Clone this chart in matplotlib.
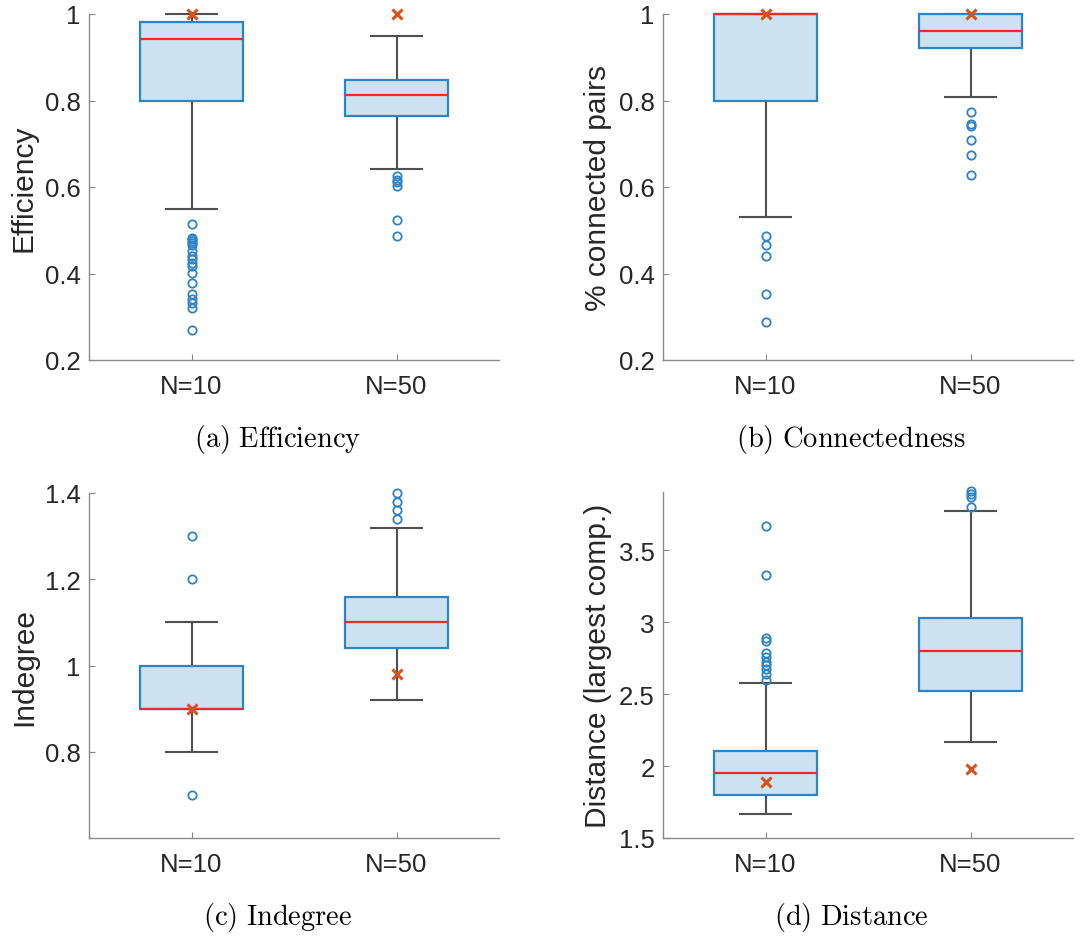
import matplotlib
matplotlib.use("Agg")
import matplotlib.pyplot as plt

plt.rcParams['font.family'] = ['Liberation Sans', 'DejaVu Sans']
plt.rcParams['mathtext.fontset'] = 'cm'

groups = ["N=10", "N=50"]

# Panel (a) Efficiency
eff_med = [0.943, 0.813]
eff_q1 = [0.800, 0.764]
eff_q3 = [0.982, 0.848]
eff_lo = [0.548, 0.642]
eff_hi = [1.000, 0.948]
eff_fl10 = [0.515, 0.483, 0.480, 0.475, 0.470, 0.465, 0.453, 0.441, 0.433,
            0.425, 0.418, 0.402, 0.379, 0.352, 0.340, 0.331, 0.321, 0.269]
eff_fl50 = [0.626, 0.616, 0.612, 0.603, 0.523, 0.487]
eff_ref = [1.0, 1.0]

# Panel (b) Connectedness
con_med = [1.000, 0.960]
con_q1 = [0.800, 0.921]
con_q3 = [1.000, 1.000]
con_lo = [0.531, 0.808]
con_hi = [1.000, 1.000]
con_fl10 = [0.486, 0.465, 0.441, 0.353, 0.287]
con_fl50 = [0.773, 0.746, 0.742, 0.709, 0.673, 0.627]
con_ref = [1.0, 1.0]

# Panel (c) Indegree
ind_med = [0.90, 1.10]
ind_q1 = [0.90, 1.04]
ind_q3 = [1.00, 1.16]
ind_lo = [0.80, 0.92]
ind_hi = [1.10, 1.32]
ind_fl10 = [1.30, 1.20, 0.70]
ind_fl50 = [1.40, 1.38, 1.36, 1.34]
ind_ref = [0.90, 0.98]

# Panel (d) Distance
dis_med = [1.952, 2.800]
dis_q1 = [1.799, 2.519]
dis_q3 = [2.108, 3.027]
dis_lo = [1.667, 2.166]
dis_hi = [2.577, 3.774]
dis_fl10 = [2.602, 2.641, 2.676, 2.700, 2.727, 2.757, 2.785, 2.867, 2.892, 3.331, 3.667]
dis_fl50 = [3.804, 3.873, 3.894, 3.915]
dis_ref = [1.887, 1.978]

captions = ["(a)\\ Efficiency", "(b)\\ Connectedness", "(c)\\ Indegree", "(d)\\ Distance"]
ylabels = ["Efficiency", "% connected pairs", "Indegree", "Distance (largest comp.)"]

BLUE = "#2d82c8"
FILL = "#cce2f0"
RED = "#f2262b"
WHISK = "#505050"
XCOL = "#d95319"
SPINE = "#8a8a8a"
TXT = "#262626"

W, H = 1083, 937
fig = plt.figure(figsize=(W / 100, H / 100), dpi=100)

def px_axes(left, top, right, bottom):
    return fig.add_axes([left / W, 1 - bottom / H, (right - left) / W, (bottom - top) / H])

panels = [
    dict(rect=(89, 15, 499, 361), med=eff_med, q1=eff_q1, q3=eff_q3, lo=eff_lo, hi=eff_hi,
         fl=[eff_fl10, eff_fl50], ref=eff_ref, ylim=(0.2, 1.0), ticks=[0.2, 0.4, 0.6, 0.8, 1.0],
         tl=["0.2", "0.4", "0.6", "0.8", "1"], cap=(278, 440)),
    dict(rect=(663, 15, 1073, 361), med=con_med, q1=con_q1, q3=con_q3, lo=con_lo, hi=con_hi,
         fl=[con_fl10, con_fl50], ref=con_ref, ylim=(0.2, 1.0), ticks=[0.2, 0.4, 0.6, 0.8, 1.0],
         tl=["0.2", "0.4", "0.6", "0.8", "1"], cap=(851, 440)),
    dict(rect=(89, 494, 499, 839), med=ind_med, q1=ind_q1, q3=ind_q3, lo=ind_lo, hi=ind_hi,
         fl=[ind_fl10, ind_fl50], ref=ind_ref, ylim=(0.6, 1.4), ticks=[0.8, 1.0, 1.2, 1.4],
         tl=["0.8", "1", "1.2", "1.4"], cap=(278, 918)),
    dict(rect=(663, 493, 1073, 839), med=dis_med, q1=dis_q1, q3=dis_q3, lo=dis_lo, hi=dis_hi,
         fl=[dis_fl10, dis_fl50], ref=dis_ref, ylim=(1.5, 3.906), ticks=[1.5, 2, 2.5, 3, 3.5],
         tl=["1.5", "2", "2.5", "3", "3.5"], cap=(851, 918)),
]

for i, p in enumerate(panels):
    ax = px_axes(*p["rect"])
    stats = []
    for k in range(2):
        stats.append(dict(med=p["med"][k], q1=p["q1"][k], q3=p["q3"][k],
                          whislo=p["lo"][k], whishi=p["hi"][k], fliers=p["fl"][k]))
    ax.bxp(stats, positions=[1, 2], widths=0.5, patch_artist=True, showfliers=True,
           boxprops=dict(facecolor=FILL, edgecolor=BLUE, linewidth=1.6, zorder=2),
           medianprops=dict(color=RED, linewidth=1.6, zorder=3),
           whiskerprops=dict(color=WHISK, linewidth=1.5, zorder=1.5),
           capprops=dict(color=WHISK, linewidth=1.5, zorder=1.5),
           capwidths=0.25,
           flierprops=dict(marker='o', markerfacecolor='none', markeredgecolor=BLUE,
                           markersize=6, markeredgewidth=1.3, linestyle='none', zorder=3))
    for art in ax.lines:
        art.set_clip_on(False)
    for art in ax.patches:
        art.set_clip_on(False)
    ax.plot([1, 2], p["ref"], linestyle='none', marker='x', color=XCOL,
            markersize=7.5, markeredgewidth=2.2, clip_on=False, zorder=5)
    ax.set_xlim(0.5, 2.5)
    ax.set_ylim(*p["ylim"])
    ax.set_yticks(p["ticks"])
    ax.set_yticklabels(p["tl"])
    ax.set_xticks([1, 2])
    ax.set_xticklabels(groups)
    ax.tick_params(direction='in', length=4, width=0.8, color=SPINE, labelsize=18.5,
                   labelcolor=TXT, pad=6)
    ax.tick_params(axis='x', pad=10)
    for s in ["top", "right"]:
        ax.spines[s].set_visible(False)
    for s in ["left", "bottom"]:
        ax.spines[s].set_color(SPINE)
        ax.spines[s].set_linewidth(1.0)
    ax.set_ylabel(ylabels[i], fontsize=21.5, color=TXT, labelpad=5)
    cx, cy = p["cap"]
    fig.text(cx / W, 1 - cy / H, "$\\mathrm{" + captions[i] + "}$", ha='center', va='center',
             fontsize=20.5, color="black")

fig.savefig("out.png", dpi=100)
